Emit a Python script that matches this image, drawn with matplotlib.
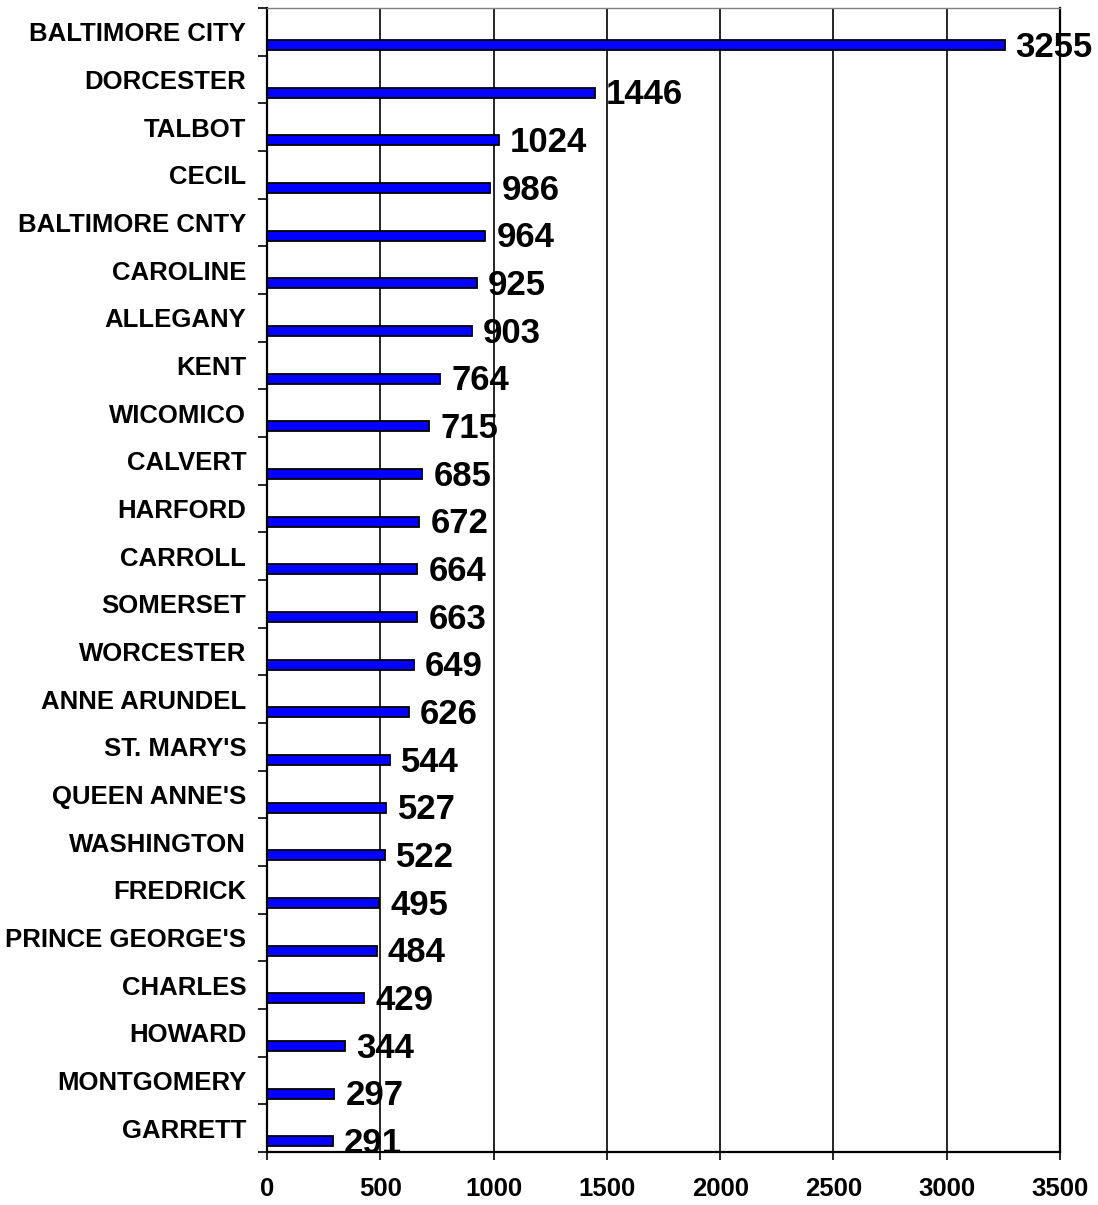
import matplotlib.pyplot as plt
from matplotlib.ticker import MultipleLocator

counties = ["BALTIMORE CITY", "DORCESTER", "TALBOT", "CECIL", "BALTIMORE CNTY",
            "CAROLINE", "ALLEGANY", "KENT", "WICOMICO", "CALVERT", "HARFORD",
            "CARROLL", "SOMERSET", "WORCESTER", "ANNE ARUNDEL", "ST. MARY'S",
            "QUEEN ANNE'S", "WASHINGTON", "FREDRICK", "PRINCE GEORGE'S",
            "CHARLES", "HOWARD", "MONTGOMERY", "GARRETT"]
values = [3255, 1446, 1024, 986, 964, 925, 903, 764, 715, 685, 672, 664,
          663, 649, 626, 544, 527, 522, 495, 484, 429, 344, 297, 291]

plt.rcParams['font.family'] = ['Liberation Sans', 'DejaVu Sans']
plt.rcParams['font.weight'] = 'bold'

fig = plt.figure(figsize=(10.98, 12.05), dpi=100)
ax = fig.add_axes([0.2432, 0.044, 0.9654 - 0.2432, 0.9934 - 0.044])

n = len(counties)
pos = list(range(n))
bar_pos = [p + 0.28 for p in pos]

ax.barh(bar_pos, values, height=0.21, color='#0000FF', edgecolor='black',
        linewidth=1.3, zorder=3)

for y, v in zip(bar_pos, values):
    ax.annotate(str(v), (v, y), xytext=(8, -1.5), textcoords='offset points',
                va='center', ha='left', fontsize=25, fontweight='bold', zorder=4)

ax.set_xlim(0, 3500)
ax.set_ylim(n - 0.5, -0.5)
ax.xaxis.set_major_locator(MultipleLocator(500))
ax.grid(axis='x', color='black', linewidth=1.2, zorder=1)

ax.set_yticks(pos)
ax.set_yticklabels(counties, fontsize=18.5, fontweight='bold')
ax.set_yticks([p - 0.5 for p in range(n + 1)], minor=True)
ax.tick_params(axis='y', which='major', length=0, pad=15)
ax.tick_params(axis='y', which='minor', direction='out', length=6.5, width=1.2)
ax.tick_params(axis='x', direction='out', length=6, width=1.2, pad=12,
               labelsize=18.5)
for lbl in ax.get_xticklabels():
    lbl.set_fontweight('bold')

for side in ['left', 'bottom', 'right']:
    ax.spines[side].set_linewidth(1.6)
    ax.spines[side].set_color('black')
ax.spines['top'].set_linewidth(1.0)
ax.spines['top'].set_color('#808080')
for s in ax.spines.values():
    s.set_zorder(5)

fig.savefig('out.png', dpi=100)
